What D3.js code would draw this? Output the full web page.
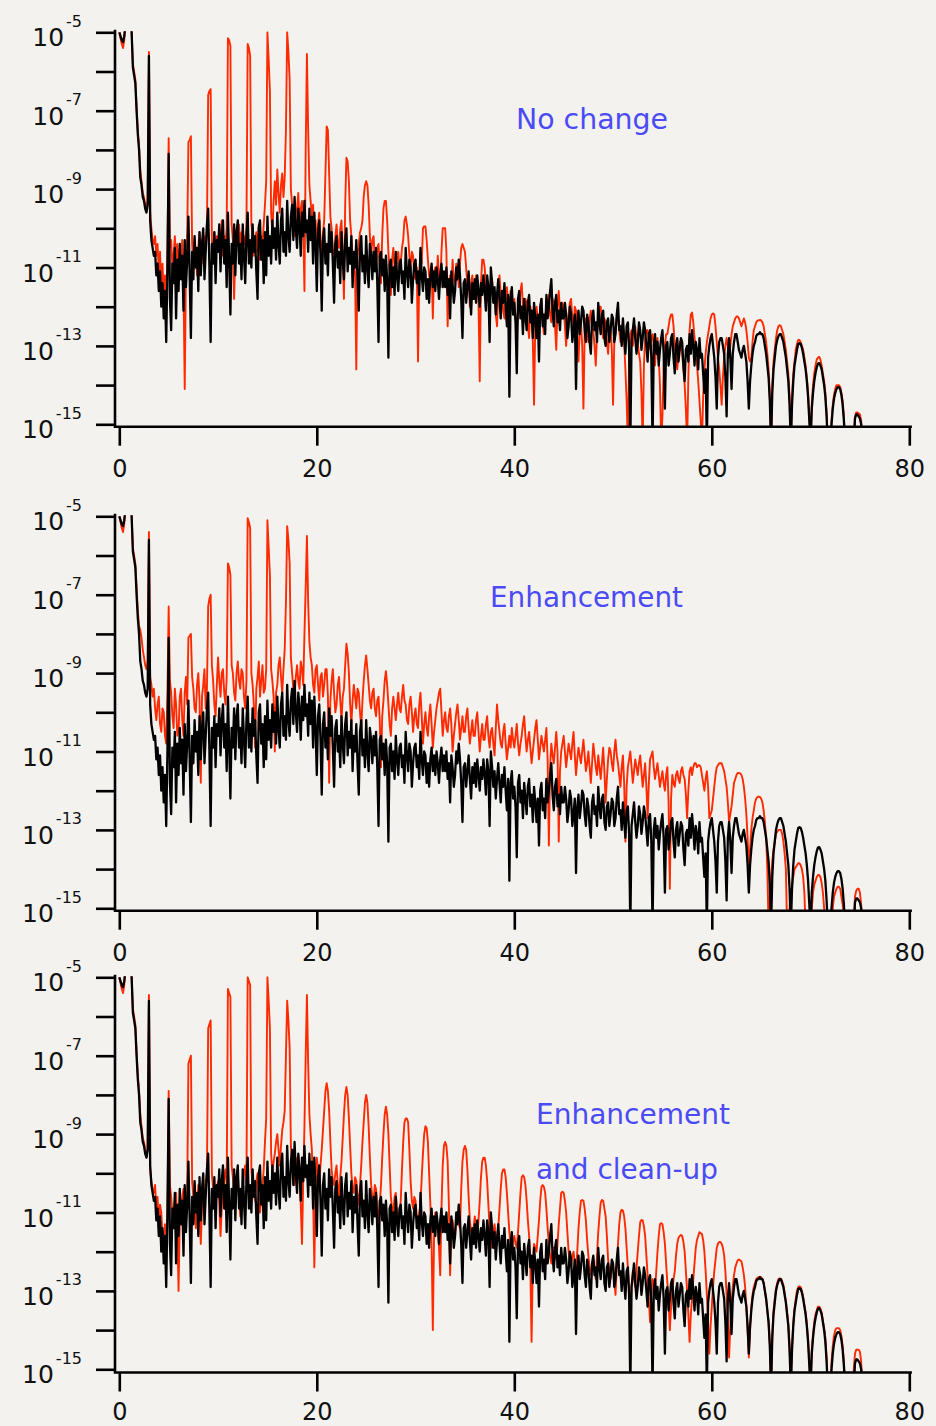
<!DOCTYPE html>
<html>
<head>
<meta charset="utf-8">
<script src="https://cdn.jsdelivr.net/npm/d3@7"></script>
<style>
  html, body { margin: 0; padding: 0; background: #f3f2ee; }
  svg { display: block; }
</style>
</head>
<body>
<svg id="chart" width="936" height="1426"></svg>
<script>
// Sampling step of every spectrum (x units); each row below covers 5 units
const step = 0.125;

// log10 of the untouched spectrum (black, shown in every panel)
const original = [
  -5.0,-5.1,-5.2,-5.25,-5.1,-4.8,-4.5,-4.3,-4.2,-4.5,-5.0,-5.9,-6.1,-6.3,-7.0,-7.6,-8.0,-8.7,-8.9,-9.2,-9.3,-9.5,-9.6,-9.4,-5.6,-9.8,-10.3,-10.5,-10.7,-10.6,-11.2,-10.9,-11.6,-11.1,-12.0,-11.4,-12.3,-11.6,-12.9,-11.0,
  -8.1,-11.8,-12.6,-10.9,-11.4,-10.5,-12.3,-10.8,-11.6,-10.4,-11.3,-10.7,-12.1,-10.3,-11.5,-10.8,-9.7,-11.2,-12.8,-10.6,-11.3,-10.2,-11.0,-10.5,-11.6,-10.1,-11.2,-10.4,-10.0,-11.3,-10.6,-9.9,-9.5,-11.0,-12.9,-10.4,-10.9,-10.1,-11.4,-10.3,
  -10.6,-9.9,-11.1,-10.2,-9.8,-10.9,-10.3,-11.5,-9.6,-10.8,-12.2,-10.4,-10.9,-9.9,-11.2,-10.1,-9.8,-10.9,-10.4,-11.3,-9.9,-10.7,-11.4,-10.2,-9.6,-10.9,-10.3,-11.0,-9.9,-10.6,-10.2,-11.1,-11.8,-10.0,-9.8,-10.8,-10.3,-11.4,-10.1,-11.2,
  -9.7,-10.7,-10.2,-10.9,-9.8,-10.5,-10.0,-10.8,-9.6,-10.4,-10.9,-9.8,-9.5,-10.6,-10.1,-10.7,-9.3,-10.2,-10.6,-9.7,-9.4,-10.3,-9.2,-10.0,-10.5,-9.5,-9.9,-10.7,-9.6,-10.2,-9.3,-10.1,-9.8,-10.6,-9.5,-10.3,-9.7,-10.9,-9.6,-10.4,
  -11.6,-10.1,-9.8,-10.7,-12.1,-10.3,-10.0,-10.9,-10.4,-11.2,-9.9,-10.6,-10.1,-10.9,-11.9,-10.4,-10.2,-11.0,-10.6,-11.4,-10.1,-10.8,-11.3,-10.3,-10.0,-11.1,-10.5,-10.9,-10.2,-11.5,-10.6,-11.0,-10.3,-11.3,-12.1,-10.5,-10.2,-11.1,-10.7,-11.4,
  -10.2,-11.0,-11.5,-10.4,-10.7,-11.3,-10.6,-11.1,-10.5,-11.4,-12.9,-10.7,-10.6,-11.2,-10.8,-11.6,-10.7,-11.3,-13.3,-10.9,-10.8,-11.5,-11.0,-11.7,-10.6,-11.2,-11.6,-10.9,-10.8,-11.4,-11.1,-11.8,-10.5,-11.1,-11.5,-10.8,-11.0,-11.9,-11.3,-10.9,
  -10.8,-11.4,-11.1,-11.7,-10.5,-11.2,-11.6,-11.0,-11.1,-11.8,-11.3,-11.9,-11.2,-10.9,-11.5,-11.1,-11.6,-11.0,-11.3,-11.8,-11.2,-10.9,-11.5,-11.1,-11.5,-11.0,-11.7,-11.3,-12.3,-11.1,-11.4,-11.9,-11.6,-11.0,-11.3,-10.8,-11.2,-11.8,-12.8,-11.4,
  -11.3,-11.9,-11.5,-11.1,-11.7,-12.2,-11.4,-11.8,-11.3,-11.9,-11.2,-11.6,-12.0,-11.4,-11.7,-11.2,-11.6,-12.1,-11.2,-11.5,-12.9,-11.0,-11.4,-11.9,-11.5,-12.2,-11.7,-11.3,-11.8,-12.3,-11.6,-11.9,-11.4,-12.0,-12.5,-11.7,-14.3,-11.8,-11.5,-12.2,
  -11.9,-12.4,-13.7,-11.8,-11.6,-12.3,-12.0,-12.7,-11.8,-12.2,-12.6,-11.9,-11.7,-12.4,-12.1,-12.8,-11.9,-12.3,-12.8,-12.2,-13.4,-12.0,-11.8,-12.5,-12.2,-12.7,-11.7,-12.3,-12.0,-11.6,-11.3,-12.1,-12.5,-11.9,-11.7,-12.4,-12.1,-12.6,-11.9,-12.3,
  -12.3,-11.9,-12.2,-12.8,-12.5,-12.0,-12.2,-12.9,-12.6,-12.2,-14.1,-12.4,-12.1,-12.7,-12.4,-12.0,-12.1,-12.6,-12.9,-12.2,-12.4,-12.9,-13.2,-12.3,-12.1,-12.6,-12.4,-12.9,-11.9,-12.4,-12.7,-12.2,-12.1,-12.8,-13.0,-12.4,-12.3,-12.9,-12.6,-12.2,
  -12.3,-12.9,-12.7,-12.2,-11.9,-12.6,-12.5,-13.0,-12.3,-12.8,-13.2,-12.5,-12.4,-13.1,-15.5,-12.9,-12.6,-12.3,-12.8,-13.2,-12.9,-12.4,-12.6,-13.1,-12.8,-12.4,-12.6,-13.0,-13.4,-12.7,-12.6,-13.3,-15.5,-13.0,-12.7,-13.2,-12.9,-13.5,-13.1,-12.8,
  -12.6,-13.2,-14.6,-13.0,-12.9,-13.5,-13.2,-12.8,-12.7,-13.3,-13.7,-13.0,-12.8,-13.4,-13.1,-12.8,-12.9,-13.5,-13.9,-13.1,-13.0,-13.4,-12.7,-13.2,-12.6,-13.0,-13.5,-12.9,-13.1,-13.6,-12.8,-13.3,-13.2,-13.7,-14.2,-13.6,-15.5,-13.3,-13.0,-12.8,
  -12.7,-13.0,-13.3,-13.8,-14.6,-13.3,-12.9,-12.8,-12.8,-13.0,-13.2,-13.8,-14.8,-13.2,-12.8,-13.3,-14.1,-13.2,-12.9,-12.7,-12.7,-12.9,-13.1,-13.2,-13.3,-13.1,-13.0,-13.2,-13.4,-13.9,-14.6,-13.9,-13.5,-13.2,-13.0,-12.9,-12.75,-12.7,-12.7,-12.65,
  -12.7,-12.7,-12.8,-13.0,-13.2,-13.5,-13.8,-14.4,-15.5,-14.2,-13.6,-13.3,-13.0,-12.85,-12.75,-12.7,-12.7,-12.8,-12.9,-13.1,-13.3,-13.6,-13.9,-14.5,-15.5,-14.5,-13.9,-13.5,-13.3,-13.1,-12.95,-12.93,-12.95,-13.05,-13.2,-13.4,-13.6,-13.9,-14.3,-14.9,
  -15.5,-14.6,-14.2,-13.9,-13.7,-13.55,-13.45,-13.44,-13.5,-13.6,-13.8,-14.0,-14.3,-14.8,-15.5,-15.5,-15.5,-15.0,-14.6,-14.35,-14.2,-14.1,-14.05,-14.05,-14.1,-14.25,-14.5,-14.9,-15.5,-15.5,-15.5,-15.5,-15.5,-15.5,-15.5,-15.5,-14.85,-14.75,-14.75,-14.8,
  -14.85,-15.0,-15.5
];

// log10 of the processed spectrum, "No change"
const noChange = [
  -5.0,-5.15,-5.3,-5.4,-5.2,-4.8,-4.5,-4.3,-4.2,-4.5,-5.0,-5.8,-6.0,-6.2,-6.9,-7.5,-7.9,-8.5,-8.8,-9.1,-9.2,-9.4,-9.5,-9.3,-5.5,-9.6,-10.0,-10.3,-10.4,-10.2,-10.7,-10.4,-11.1,-10.6,-11.5,-10.9,-11.7,-11.2,-12.3,-10.6,
  -7.7,-10.5,-10.3,-11.0,-10.7,-10.2,-10.9,-10.4,-11.2,-10.5,-10.8,-10.3,-11.4,-14.1,-11.0,-10.2,-7.8,-7.75,-7.65,-10.4,-10.9,-10.3,-10.6,-11.2,-10.5,-10.1,-10.8,-10.3,-10.9,-10.2,-10.5,-10.0,-6.6,-6.5,-6.45,-10.3,-10.7,-10.1,-10.6,-10.2,
  -10.5,-10.0,-10.6,-9.8,-10.7,-10.2,-10.4,-10.0,-5.15,-5.2,-5.35,-9.9,-10.3,-11.8,-10.6,-10.0,-10.4,-9.9,-10.5,-10.1,-10.8,-10.2,-10.4,-10.0,-5.3,-5.4,-5.6,-9.9,-10.2,-10.7,-10.3,-10.1,-10.6,-9.9,-10.8,-10.2,-10.4,-9.9,-9.4,-8.8,
  -5.0,-5.7,-6.5,-9.6,-10.1,-9.3,-8.8,-9.4,-8.5,-9.1,-9.6,-8.9,-8.6,-9.2,-8.7,-7.5,-5.0,-5.5,-6.2,-9.0,-9.4,-9.9,-10.2,-9.6,-9.5,-9.1,-9.9,-9.5,-9.3,-10.0,-11.6,-8.0,-5.55,-7.5,-8.9,-9.3,-9.7,-9.4,-10.4,-9.8,
  -10.6,-9.9,-9.6,-10.3,-10.8,-10.1,-9.8,-8.6,-7.4,-7.5,-8.6,-9.7,-10.0,-10.6,-10.9,-10.2,-9.9,-10.4,-10.5,-10.0,-9.8,-10.7,-11.8,-9.4,-8.2,-8.3,-8.8,-9.8,-10.2,-10.8,-10.6,-11.2,-13.6,-10.7,-10.4,-10.1,-10.0,-9.8,-9.2,-8.9,
  -8.8,-8.9,-9.4,-10.2,-10.7,-10.3,-10.2,-10.8,-11.0,-10.5,-10.4,-10.9,-11.4,-10.2,-9.5,-9.3,-9.3,-9.8,-10.6,-11.1,-11.7,-10.8,-10.5,-11.0,-11.2,-10.7,-10.6,-11.0,-10.9,-10.5,-10.3,-9.8,-9.7,-9.9,-10.2,-10.7,-11.0,-10.6,-10.7,-11.2,
  -11.3,-11.0,-13.4,-11.2,-10.6,-10.9,-10.0,-9.95,-9.95,-10.3,-10.8,-11.2,-11.4,-11.0,-12.3,-11.1,-11.0,-11.4,-10.7,-11.2,-11.5,-10.6,-10.0,-10.0,-10.0,-10.6,-12.5,-11.4,-11.2,-11.6,-10.8,-11.3,-11.4,-10.9,-11.0,-11.5,-10.9,-10.5,-10.4,-10.5,
  -10.6,-11.0,-11.5,-11.2,-12.0,-11.4,-11.2,-11.7,-11.8,-11.2,-11.3,-11.9,-13.9,-11.4,-10.8,-10.8,-11.0,-11.5,-11.4,-11.9,-11.9,-11.3,-11.3,-11.8,-11.7,-12.2,-12.5,-11.6,-11.2,-11.7,-11.6,-12.1,-12.3,-11.8,-11.5,-12.0,-12.0,-11.6,-11.7,-12.2,
  -11.8,-12.3,-12.6,-12.1,-12.0,-11.6,-11.4,-12.0,-12.4,-11.8,-11.9,-12.5,-12.8,-12.0,-12.2,-12.9,-14.5,-12.4,-12.0,-12.3,-12.6,-12.0,-11.8,-12.4,-12.7,-12.2,-12.1,-11.8,-11.7,-12.2,-12.4,-11.8,-11.9,-12.5,-13.1,-12.0,-11.6,-12.1,-12.3,-11.9,
  -12.0,-12.5,-13.0,-12.4,-12.2,-11.9,-11.8,-12.3,-12.5,-12.0,-12.1,-12.8,-13.4,-12.6,-12.4,-13.0,-14.6,-12.7,-12.3,-12.6,-12.9,-12.3,-12.1,-12.5,-12.6,-13.0,-13.5,-12.7,-12.3,-12.0,-12.0,-12.5,-12.8,-12.3,-12.4,-12.9,-13.2,-12.6,-12.5,-13.1,
  -14.5,-12.9,-12.6,-12.3,-12.2,-12.6,-12.9,-12.5,-12.4,-12.9,-13.6,-14.4,-15.5,-13.4,-12.7,-12.6,-13.0,-12.7,-12.5,-12.8,-12.9,-13.2,-13.4,-14.2,-15.5,-13.5,-12.8,-12.6,-12.6,-12.9,-13.1,-12.8,-12.7,-13.0,-13.5,-13.0,-12.8,-13.3,-14.0,-15.5,
  -14.8,-13.6,-13.0,-12.7,-12.7,-12.5,-12.3,-12.2,-12.2,-12.5,-13.0,-13.3,-13.6,-13.2,-12.9,-13.0,-13.2,-13.6,-14.0,-14.6,-15.5,-13.8,-12.6,-12.2,-12.15,-12.4,-12.8,-13.1,-13.5,-13.9,-14.4,-14.9,-15.5,-14.3,-13.6,-13.2,-12.9,-12.7,-12.5,-12.3,
  -12.2,-12.17,-12.2,-12.5,-12.9,-13.3,-13.6,-14.0,-14.5,-13.8,-13.3,-13.0,-12.8,-13.0,-13.3,-13.0,-12.7,-12.5,-12.4,-12.3,-12.25,-12.25,-12.3,-12.4,-12.5,-12.4,-12.3,-12.4,-12.6,-12.9,-13.3,-13.4,-13.3,-12.9,-12.6,-12.5,-12.4,-12.35,-12.35,-12.34,
  -12.35,-12.4,-12.5,-12.7,-12.9,-13.2,-13.6,-14.3,-15.5,-14.0,-13.4,-13.1,-12.8,-12.6,-12.5,-12.47,-12.5,-12.6,-12.7,-12.9,-13.1,-13.4,-13.7,-14.3,-15.5,-14.3,-13.7,-13.4,-13.1,-12.95,-12.85,-12.85,-12.9,-13.0,-13.1,-13.3,-13.5,-13.8,-14.2,-14.8,
  -15.5,-14.5,-14.0,-13.7,-13.5,-13.35,-13.3,-13.28,-13.35,-13.5,-13.7,-13.9,-14.2,-14.7,-15.5,-15.5,-15.5,-14.9,-14.5,-14.25,-14.1,-14.0,-14.0,-14.0,-14.05,-14.2,-14.4,-14.8,-15.5,-15.5,-15.5,-15.5,-15.5,-15.5,-15.5,-15.5,-14.8,-14.7,-14.7,-14.72,
  -14.75,-14.9,-15.5
];

// log10 of the processed spectrum, "Enhancement"
const enhancement = [
  -5.0,-5.15,-5.3,-5.4,-5.2,-4.8,-4.5,-4.3,-4.2,-4.5,-5.0,-5.8,-6.0,-6.2,-6.8,-7.4,-7.8,-7.9,-8.1,-8.4,-8.6,-8.8,-8.9,-8.7,-5.4,-9.1,-9.3,-9.6,-9.4,-9.9,-10.2,-9.8,-9.6,-10.3,-10.5,-9.9,-10.0,-10.6,-10.8,-9.5,
  -7.3,-9.2,-9.5,-10.1,-10.4,-9.4,-9.8,-10.6,-10.5,-9.6,-9.4,-10.2,-10.6,-9.5,-9.1,-9.8,-8.1,-8.05,-8.0,-9.1,-9.4,-9.9,-10.0,-9.3,-9.0,-9.7,-11.8,-9.6,-9.3,-8.9,-9.9,-9.4,-7.3,-7.1,-7.0,-8.8,-9.2,-9.8,-10.1,-9.3,
  -8.6,-9.2,-9.6,-9.0,-8.9,-9.5,-9.8,-9.1,-6.2,-6.3,-6.5,-8.8,-9.0,-9.5,-9.7,-9.0,-8.7,-9.2,-9.4,-8.9,-9.0,-9.6,-9.9,-9.2,-5.05,-5.15,-5.3,-9.0,-9.3,-9.8,-10.9,-9.4,-9.1,-8.7,-9.6,-9.2,-8.8,-9.5,-9.4,-8.9,
  -5.1,-5.8,-6.5,-8.9,-9.2,-9.6,-11.0,-9.5,-9.3,-8.8,-8.6,-9.1,-9.5,-8.9,-8.4,-7.2,-5.25,-5.6,-6.2,-8.6,-9.0,-9.4,-9.6,-9.1,-8.8,-9.2,-9.4,-8.7,-8.9,-9.3,-8.0,-6.8,-5.5,-7.2,-8.2,-8.6,-8.8,-9.3,-9.5,-8.9,
  -8.8,-9.3,-9.7,-9.1,-9.0,-9.6,-9.3,-8.9,-8.9,-9.6,-11.8,-9.7,-9.2,-8.9,-9.5,-10.0,-9.8,-9.3,-9.1,-9.7,-10.2,-9.6,-9.4,-8.8,-8.25,-8.5,-9.0,-9.8,-10.3,-9.7,-9.3,-9.6,-9.9,-9.4,-9.5,-10.0,-10.4,-9.7,-9.2,-8.8,
  -8.55,-8.9,-9.3,-9.7,-9.9,-9.5,-9.4,-9.9,-10.1,-9.7,-9.6,-10.2,-11.4,-10.1,-9.7,-9.2,-8.95,-9.3,-9.8,-10.3,-10.6,-9.9,-9.6,-9.9,-10.2,-9.8,-9.5,-9.9,-10.0,-9.6,-9.3,-9.7,-9.8,-10.2,-10.3,-9.8,-9.6,-10.0,-10.5,-10.1,
  -9.9,-10.3,-10.4,-9.8,-9.5,-10.1,-10.8,-10.3,-10.0,-10.4,-10.6,-10.1,-9.8,-10.3,-10.9,-10.5,-10.2,-9.9,-9.7,-9.5,-9.4,-10.0,-10.6,-10.2,-10.0,-10.4,-10.5,-10.1,-9.9,-10.3,-11.0,-10.6,-10.3,-10.0,-9.8,-10.2,-10.7,-10.4,-10.1,-10.5,
  -10.5,-10.1,-9.9,-10.4,-10.8,-10.5,-10.2,-10.6,-10.6,-10.2,-10.0,-10.5,-11.0,-10.6,-10.3,-10.7,-10.7,-10.3,-10.1,-10.6,-10.9,-10.5,-10.4,-10.8,-11.1,-10.4,-9.8,-10.2,-10.5,-10.8,-10.9,-10.5,-10.3,-10.8,-11.2,-10.9,-10.6,-10.9,-10.4,-10.7,
  -10.9,-10.6,-10.3,-10.8,-11.1,-10.8,-10.6,-10.3,-10.1,-10.6,-11.0,-10.7,-10.5,-10.9,-11.3,-11.0,-10.7,-10.4,-10.2,-10.7,-11.2,-10.9,-10.6,-10.8,-11.0,-10.7,-10.4,-11.2,-13.4,-11.4,-10.8,-11.1,-11.3,-10.9,-10.5,-11.0,-13.3,-11.5,-11.0,-10.8,
  -10.6,-11.0,-11.4,-11.1,-10.8,-11.0,-11.2,-10.8,-10.5,-11.1,-11.6,-11.2,-10.9,-11.1,-11.3,-11.0,-10.7,-11.1,-11.5,-11.3,-11.0,-11.4,-11.8,-11.3,-10.8,-11.1,-11.4,-11.6,-11.1,-11.4,-11.7,-11.3,-10.9,-11.5,-12.3,-11.7,-11.2,-10.9,-11.0,-11.3,
  -11.5,-11.0,-10.7,-11.1,-11.3,-11.6,-11.9,-11.4,-11.1,-11.8,-13.3,-11.9,-11.4,-11.2,-11.0,-11.4,-11.8,-11.5,-11.2,-11.4,-11.6,-11.3,-11.1,-11.5,-11.9,-11.6,-11.3,-11.9,-12.7,-11.8,-11.2,-11.1,-11.0,-11.4,-11.7,-11.5,-11.3,-11.6,-11.9,-11.7,
  -11.5,-11.8,-12.0,-11.6,-11.4,-12.3,-14.5,-12.2,-11.6,-11.8,-11.9,-11.6,-11.5,-11.7,-11.8,-11.5,-11.4,-11.6,-11.7,-12.1,-12.7,-12.0,-11.5,-11.4,-11.6,-11.4,-11.3,-11.3,-11.4,-11.35,-11.35,-11.4,-11.6,-11.8,-12.0,-11.7,-11.5,-11.9,-12.7,-12.6,
  -12.5,-12.2,-11.9,-11.6,-11.4,-11.35,-11.3,-11.3,-11.3,-11.4,-11.5,-11.7,-11.9,-12.3,-12.8,-12.6,-12.4,-12.1,-11.8,-11.7,-11.6,-11.55,-11.55,-11.56,-11.6,-11.7,-11.9,-12.2,-12.6,-13.2,-14.0,-13.5,-13.0,-12.7,-12.5,-12.3,-12.2,-12.16,-12.15,-12.16,
  -12.2,-12.3,-12.5,-12.8,-13.2,-14.0,-15.5,-14.7,-14.2,-13.8,-13.5,-13.3,-13.1,-13.05,-13.0,-13.0,-13.0,-13.1,-13.3,-13.6,-14.0,-15.5,-15.5,-15.0,-14.6,-14.4,-14.2,-14.0,-13.95,-13.9,-13.85,-13.85,-13.9,-14.0,-14.2,-14.6,-15.5,-15.5,-15.5,-15.5,
  -15.5,-15.0,-14.6,-14.4,-14.3,-14.2,-14.15,-14.15,-14.2,-14.35,-14.6,-15.0,-15.5,-15.5,-15.5,-15.5,-15.5,-15.5,-15.0,-14.7,-14.6,-14.5,-14.45,-14.45,-14.5,-14.7,-14.9,-15.2,-15.5,-15.5,-15.5,-15.5,-15.5,-15.5,-15.5,-15.5,-14.7,-14.55,-14.5,-14.5,
  -14.6,-14.9,-15.5
];

// log10 of the processed spectrum, "Enhancement and clean-up"
const cleanUp = [
  -5.0,-5.15,-5.3,-5.4,-5.2,-4.8,-4.5,-4.3,-4.2,-4.5,-5.0,-5.8,-6.0,-6.2,-6.9,-7.5,-7.9,-8.5,-8.8,-9.1,-9.2,-9.4,-9.6,-9.4,-5.45,-9.9,-10.2,-10.4,-10.5,-10.3,-10.9,-10.6,-11.4,-10.8,-11.0,-11.6,-12.0,-11.3,-12.5,-11.0,
  -7.9,-10.3,-10.6,-11.0,-11.3,-10.7,-10.5,-11.4,-13.0,-11.2,-11.0,-10.6,-10.4,-10.9,-11.2,-10.5,-7.2,-7.1,-7.0,-10.2,-10.6,-11.0,-11.4,-10.8,-10.3,-10.9,-11.8,-10.9,-10.5,-10.8,-10.2,-10.0,-6.3,-6.2,-6.1,-10.0,-10.4,-10.7,-10.9,-10.4,
  -10.2,-10.8,-11.6,-10.9,-10.5,-10.1,-9.9,-10.3,-5.3,-5.4,-5.5,-9.8,-10.1,-10.5,-10.8,-10.3,-10.0,-10.6,-11.1,-10.7,-10.4,-10.0,-9.8,-10.2,-5.0,-5.1,-5.2,-9.9,-10.3,-10.5,-10.7,-10.2,-10.0,-10.6,-11.0,-10.6,-10.3,-9.9,-9.2,-8.6,
  -5.0,-5.6,-6.3,-9.5,-10.0,-9.7,-9.5,-9.2,-9.0,-9.4,-9.8,-9.3,-8.9,-8.7,-8.4,-7.0,-5.6,-6.1,-6.8,-9.3,-9.8,-10.1,-10.3,-9.9,-9.6,-9.9,-10.1,-10.8,-11.8,-10.2,-8.8,-7.0,-5.45,-7.2,-8.5,-9.0,-9.4,-10.6,-12.4,-10.4,
  -9.6,-9.9,-10.2,-9.8,-9.4,-8.9,-8.4,-7.9,-7.7,-7.9,-8.4,-9.2,-9.9,-10.2,-10.3,-10.0,-9.8,-10.3,-10.6,-10.1,-9.7,-9.1,-8.5,-8.0,-7.8,-8.0,-8.6,-9.3,-10.0,-10.4,-10.5,-10.1,-10.2,-10.6,-10.8,-10.3,-9.8,-9.2,-8.7,-8.2,
  -8.0,-8.2,-8.8,-9.6,-10.3,-10.6,-10.7,-10.3,-10.4,-10.9,-11.3,-10.8,-10.3,-9.6,-9.0,-8.5,-8.3,-8.5,-9.0,-9.8,-10.6,-10.9,-11.0,-10.6,-10.5,-11.0,-11.4,-11.0,-10.7,-9.9,-9.2,-8.7,-8.6,-8.6,-8.7,-9.4,-10.2,-10.7,-10.9,-10.6,
  -10.7,-11.1,-11.3,-11.0,-10.8,-10.1,-9.5,-9.0,-8.8,-8.85,-9.2,-10.0,-10.8,-11.8,-14.0,-11.6,-11.0,-11.2,-11.4,-11.9,-12.6,-10.9,-9.8,-9.3,-9.2,-9.3,-9.7,-10.8,-12.6,-11.5,-11.2,-11.5,-11.6,-11.2,-11.0,-11.3,-11.4,-10.4,-9.7,-9.4,
  -9.3,-9.4,-9.9,-10.6,-11.2,-11.5,-11.7,-11.4,-11.1,-11.4,-11.6,-11.2,-10.7,-10.1,-9.7,-9.6,-9.6,-9.8,-10.2,-10.8,-11.4,-11.7,-11.9,-11.5,-11.3,-11.6,-11.8,-11.4,-10.9,-10.4,-10.0,-9.9,-9.9,-10.1,-10.5,-11.0,-11.5,-11.8,-12.0,-11.7,
  -11.6,-11.8,-11.9,-11.5,-11.0,-10.5,-10.1,-10.05,-10.1,-10.3,-10.7,-11.2,-11.6,-12.4,-14.3,-12.3,-11.8,-11.9,-12.0,-11.6,-11.2,-10.7,-10.35,-10.3,-10.35,-10.5,-10.9,-11.4,-11.8,-12.1,-12.3,-12.0,-11.9,-12.1,-12.2,-11.8,-11.3,-10.9,-10.5,-10.47,
  -10.5,-10.7,-11.0,-11.5,-12.0,-12.3,-12.4,-12.1,-12.0,-12.3,-12.5,-12.0,-11.4,-11.0,-10.7,-10.68,-10.7,-10.9,-11.2,-11.7,-12.1,-12.4,-12.6,-12.3,-12.2,-12.5,-12.7,-12.1,-11.5,-11.1,-10.75,-10.68,-10.7,-10.9,-11.1,-11.6,-12.2,-12.5,-12.7,-12.4,
  -12.3,-12.7,-13.1,-12.4,-11.8,-11.3,-11.0,-10.93,-10.95,-11.1,-11.4,-11.9,-12.4,-12.9,-13.5,-12.9,-12.5,-12.7,-12.9,-12.4,-12.0,-11.6,-11.25,-11.19,-11.2,-11.35,-11.6,-12.1,-12.6,-13.2,-13.8,-13.1,-12.7,-12.8,-13.0,-12.5,-12.0,-11.6,-11.3,-11.27,
  -11.3,-11.5,-11.8,-12.3,-12.8,-13.3,-14.0,-13.4,-13.0,-12.7,-12.5,-12.1,-11.8,-11.65,-11.6,-11.57,-11.6,-11.75,-12.0,-12.5,-13.0,-13.6,-14.3,-13.6,-13.2,-12.7,-12.3,-11.9,-11.7,-11.6,-11.5,-11.53,-11.55,-11.7,-12.0,-12.5,-13.1,-13.8,-14.6,-13.9,
  -13.4,-12.9,-12.5,-12.2,-11.9,-11.8,-11.75,-11.75,-11.8,-11.9,-12.1,-12.5,-13.1,-13.8,-14.7,-13.9,-13.3,-12.9,-12.6,-12.4,-12.3,-12.22,-12.2,-12.22,-12.25,-12.4,-12.6,-12.9,-13.4,-14.0,-14.7,-14.0,-13.4,-13.1,-12.9,-12.8,-12.7,-12.66,-12.65,-12.64,
  -12.65,-12.7,-12.8,-13.0,-13.2,-13.5,-13.8,-14.4,-15.5,-14.1,-13.5,-13.2,-12.95,-12.8,-12.7,-12.68,-12.7,-12.75,-12.85,-13.05,-13.25,-13.55,-13.85,-14.4,-15.5,-14.4,-13.8,-13.45,-13.2,-13.0,-12.9,-12.88,-12.9,-13.0,-13.15,-13.35,-13.55,-13.85,-14.25,-14.8,
  -15.5,-14.5,-14.1,-13.8,-13.6,-13.5,-13.4,-13.4,-13.45,-13.55,-13.75,-13.95,-14.2,-14.7,-15.5,-15.5,-15.5,-14.8,-14.4,-14.15,-14.0,-13.95,-13.95,-13.95,-14.0,-14.15,-14.4,-14.8,-15.5,-15.5,-15.5,-15.5,-15.5,-15.5,-15.5,-15.0,-14.6,-14.5,-14.5,-14.5,
  -14.55,-14.8,-15.5
];

// Axis ticks
const xTicks = [0, 20, 40, 60, 80];
const decadeExps = [-5, -6, -7, -8, -9, -10, -11, -12, -13, -14, -15];
const labelledExps = [-5, -7, -9, -11, -13, -15];

// Panel layout
const panels = [
  { series: noChange, top: 32.3, bottom: 424.3, axisY: 426.7, labelPad: 14,
    notes: [{ text: "No change", x: 516, y: 129, w: 152 }] },
  { series: enhancement, top: 516.3, bottom: 908.3, axisY: 910.7, labelPad: 14,
    notes: [{ text: "Enhancement", x: 490, y: 607, w: 193 }] },
  { series: cleanUp, top: 977.3, bottom: 1369.3, axisY: 1372.5, labelPad: 11,
    notes: [{ text: "Enhancement", x: 536, y: 1124, w: 194 },
            { text: "and clean-up", x: 536, y: 1179, w: 182 }] }
];

const frameLeft = 115;
const font = "'DejaVu Sans', Verdana, sans-serif";
const svg = d3.select("#chart");

const x = d3.scaleLinear().domain([0, 80]).range([119.3, 909.3]);

panels.forEach((p, k) => {
  const y = d3.scaleLog().domain([1e-5, 1e-15]).range([p.top, p.bottom]);
  const g = svg.append("g").attr("class", "panel");

  const clipId = "plot-clip-" + k;
  svg.append("clipPath").attr("id", clipId)
    .append("rect")
    .attr("x", frameLeft)
    .attr("y", p.top - 1)
    .attr("width", x(80) - frameLeft)
    .attr("height", p.axisY - p.top + 1);

  const line = d3.line()
    .x((d, i) => x(i * step))
    .y(d => y(Math.pow(10, d)));

  const plot = g.append("g").attr("clip-path", `url(#${clipId})`);
  plot.append("path")
    .datum(p.series)
    .attr("d", line)
    .attr("fill", "none")
    .attr("stroke", "#ff2a00")
    .attr("stroke-width", 1.9)
    .attr("stroke-linejoin", "round");
  plot.append("path")
    .datum(original)
    .attr("d", line)
    .attr("fill", "none")
    .attr("stroke", "#000")
    .attr("stroke-width", 2.3)
    .attr("stroke-linejoin", "round");

  // y axis: a tick at every decade
  const yAxis = g.append("g")
    .attr("transform", `translate(${frameLeft},0)`)
    .call(d3.axisLeft(y)
      .tickValues(decadeExps.map(e => Math.pow(10, e)))
      .tickSize(19)
      .tickSizeOuter(0)
      .tickFormat(""));
  yAxis.select(".domain").remove();
  yAxis.selectAll(".tick line").attr("stroke", "#000").attr("stroke-width", 2.6);

  // power-of-ten labels on odd decades
  labelledExps.forEach(e => {
    const ty = y(Math.pow(10, e));
    const t = g.append("text")
      .attr("x", 82)
      .attr("y", ty + 14)
      .attr("text-anchor", "end")
      .attr("font-family", font)
      .attr("font-size", 25)
      .attr("fill", "#111")
      .text("10");
    t.append("tspan")
      .attr("dx", 2)
      .attr("dy", -19.5)
      .attr("font-size", 16)
      .text(String(e));
  });

  // x axis
  const xAxis = g.append("g")
    .attr("transform", `translate(0,${p.axisY})`)
    .call(d3.axisBottom(x)
      .tickValues(xTicks)
      .tickSize(19)
      .tickSizeOuter(0)
      .tickPadding(p.labelPad)
      .tickFormat(d3.format("d")));
  xAxis.select(".domain").remove();
  xAxis.selectAll(".tick line").attr("stroke", "#000").attr("stroke-width", 2.6);
  xAxis.selectAll(".tick text")
    .attr("font-family", font)
    .attr("font-size", 24)
    .attr("fill", "#111");

  // frame lines
  g.append("path")
    .attr("d", d3.line()([[frameLeft, p.top - 1.3], [frameLeft, p.axisY], [x(80) + 1.3, p.axisY]]))
    .attr("fill", "none")
    .attr("stroke", "#000")
    .attr("stroke-width", 2.6)
    .attr("stroke-linecap", "square");

  // panel captions
  p.notes.forEach(n => {
    g.append("text")
      .attr("x", n.x)
      .attr("y", n.y)
      .attr("font-family", font)
      .attr("font-size", 29)
      .attr("textLength", n.w)
      .attr("lengthAdjust", "spacingAndGlyphs")
      .attr("fill", "#4b4bf5")
      .text(n.text);
  });
});
</script>
</body>
</html>
